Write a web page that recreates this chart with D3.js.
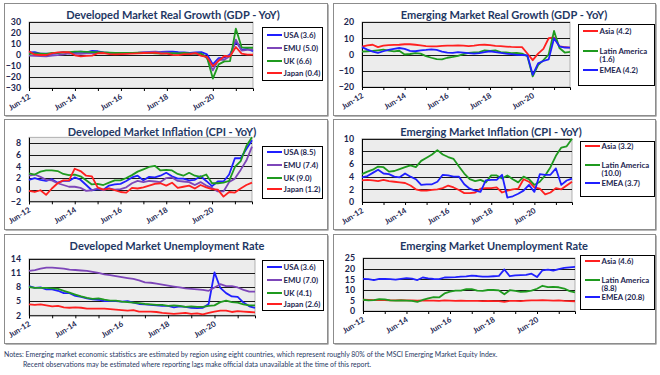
<!DOCTYPE html>
<html><head><meta charset="utf-8">
<script src="https://cdn.jsdelivr.net/npm/d3@7"></script>
<style>
body{margin:0;background:#fff}
svg{display:block}
text{font-family:Lato,"Open Sans",sans-serif}
</style>
</head><body>
<svg id="chart" width="660" height="375"></svg>
<script>
// ---------- DATA ----------
// quarterly observations, Jun-2012 ... Mar-2022 (40 quarters)
const firstQuarter = "Jun-12";
const lastQuarter = "Mar-22";
const xTickLabels = ["Jun-12","Jun-14","Jun-16","Jun-18","Jun-20"];
const yearTickLabels = ["Jun-12","Jun-13","Jun-14","Jun-15","Jun-16","Jun-17","Jun-18","Jun-19","Jun-20","Jun-21"];

const dmNames = ["USA","EMU","UK","Japan"];
const emNames = ["Asia","Latin America","EMEA"];

// Developed market real GDP YoY
const gdpUSA   = [2.3,2.6,1.3, 1.3,1.1,1.6,2.6, 1.5,2.6,3.0,2.5, 3.8,3.4,2.4,1.9, 1.5,1.3,1.6,2.0, 1.9,2.1,2.3,2.7, 2.9,3.1,3.1,2.5, 2.3,2.0,2.3,2.6, 0.6,-8.5,-2.9,-2.3, 0.5,12.2,4.9,5.5, 3.6];
const gdpEMU   = [-0.5,-0.7,-1.0, -1.2,-0.5,-0.2,0.6, 1.4,1.0,1.1,1.4, 1.6,2.0,2.0,2.0, 1.7,1.8,1.8,2.0, 2.1,2.6,2.8,3.0, 2.5,2.3,1.7,1.3, 1.4,1.3,1.4,1.0, -3.1,-14.0,-4.1,-4.4, -1.0,14.0,4.0,4.7, 5.0];
const gdpUK    = [1.0,1.5,1.3, 1.0,2.0,2.0,2.4, 2.7,3.0,3.0,2.8, 2.6,2.5,2.3,2.2, 1.8,1.9,2.0,2.0, 2.1,1.8,1.9,1.6, 1.2,1.4,1.6,1.4, 1.8,1.4,1.2,1.2, -2.2,-21.4,-8.5,-5.8, -5.5,24.0,7.0,6.6, 6.6];
const gdpJapan = [3.5,0.3,0.0, 0.0,1.5,2.3,2.5, 2.5,-0.3,-1.2,-0.8, -0.6,1.6,1.8,0.8, 0.6,0.8,1.0,1.2, 1.5,1.8,2.0,2.2, 1.2,1.3,0.1,-0.1, 0.8,0.9,1.7,-0.8, -1.8,-10.1,-5.4,-0.9, -1.3,7.3,1.2,0.4, 0.4];
const gdpDmLatest = [3.6,5.0,6.6,0.4];

// Emerging market real GDP YoY
const gdpAsia  = [4.9,5.6,6.0,4.5, 5.5,5.8,5.9,6.0, 6.3,6.3,6.0,5.6, 5.2,5.0,5.0,5.3, 5.5,5.4,5.6,5.5, 5.2,5.5,5.9,6.0, 5.8,5.3,5.1,4.9, 4.7,4.6,4.5,0.6, -3.5,0.5,3.5,10.0, 10.5,5.0,4.6,4.2];
const gdpLatAm = [1.8,2.0,2.2,2.6, 3.0,2.4,1.9,2.3, 0.0,0.3,0.8,0.5, -1.0,-2.0,-2.8,-3.0, -2.0,-1.5,-0.8,0.2, 1.0,1.3,1.5,2.5, 2.2,2.5,1.5,1.3, 0.8,1.0,0.5,-1.0, -13.5,-6.5,-3.5,0.0, 14.5,4.0,1.2,1.6];
const gdpEMEA  = [4.5,3.0,1.8,1.0, 2.0,2.8,3.5,4.0, 3.5,2.2,2.0,2.5, 2.8,3.2,2.8,1.8, 1.2,1.0,1.5,1.2, 0.8,0.5,0.8,1.5, 2.0,1.5,1.0,0.5, 0.2,-0.2,-0.3,-0.5, -12.5,-5.5,-4.0,-3.0, 10.0,5.0,4.3,4.2];
const gdpEmLatest = [4.2,1.6,4.2];

// Developed market CPI YoY
const cpiUSA   = [1.7,2.0,1.7, 1.5,1.8,1.2,1.5, 1.5,2.1,1.7,0.8, -0.1,0.1,0.0,0.7, 0.9,1.0,1.5,2.1, 2.4,1.6,2.2,2.1, 2.4,2.9,2.3,1.9, 1.9,1.6,1.7,2.3, 1.5,0.6,1.4,1.4, 2.6,5.4,5.4,7.0, 8.5];
const cpiEMU   = [2.4,2.6,2.2, 1.7,1.6,1.1,0.8, 0.5,0.5,0.3,-0.2, -0.1,0.2,-0.1,0.2, 0.0,0.1,0.4,1.1, 1.5,1.3,1.5,1.4, 1.3,2.0,2.1,1.5, 1.4,1.3,0.8,1.3, 0.7,0.3,-0.3,-0.3, 1.3,1.9,3.4,5.0, 7.4];
const cpiUK    = [2.8,2.6,3.1, 3.3,3.3,3.2,2.7, 2.5,2.6,2.3,1.6, 0.9,1.0,0.8,1.2, 1.6,1.6,2.0,2.5, 3.1,3.5,3.9,4.1, 3.3,3.4,3.3,2.7, 2.4,2.9,2.4,2.2, 2.6,1.1,1.1,1.2, 1.5,3.9,4.9,7.5, 9.0];
const cpiJapan = [-0.2,-0.4,-0.1, -0.9,0.2,1.1,1.6, 1.6,3.6,3.2,2.4, 2.3,0.4,0.0,0.2, -0.1,-0.4,-0.5,0.3, 0.2,0.4,0.7,1.0, 1.1,0.7,1.2,0.3, 0.5,0.7,0.2,0.8, 0.4,0.1,0.0,-1.2, -0.4,-0.5,0.2,0.8, 1.2];
const cpiDmLatest = [8.5,7.4,9.0,1.2];

// Emerging market CPI YoY
const cpiAsia  = [3.4,3.5,3.4,3.3, 3.5,3.3,3.2,3.1, 3.0,2.6,2.0,1.8, 1.8,1.9,2.0,2.2, 2.6,2.3,1.9,1.4, 1.4,1.5,2.1,2.2, 2.2,2.3,1.5,1.8, 2.0,2.1,3.6,3.2, 2.3,2.1,1.2,1.5, 2.2,2.0,2.6,3.2];
const cpiLatAm = [4.4,4.8,5.1,5.6, 5.5,4.8,4.9,5.2, 5.5,5.8,5.5,6.5, 7.0,7.5,8.2,7.5, 7.1,6.8,5.6,4.5, 3.6,3.3,3.5,3.1, 4.2,4.2,3.7,4.2, 3.6,3.1,4.0,3.6, 2.7,3.2,4.2,5.5, 7.3,8.6,8.8,10.0];
const cpiEMEA  = [3.9,4.1,4.6,5.1, 4.5,4.4,4.0,3.9, 4.5,4.0,3.6,2.7, 2.8,2.8,3.2,4.3, 4.2,4.0,4.0,2.8, 2.1,1.8,1.6,3.4, 3.5,3.5,4.3,0.7, 0.9,1.3,1.8,2.7, 1.6,4.4,4.3,4.3, 5.3,2.7,3.4,3.7];
const cpiEmLatest = [3.2,10.0,3.7];

// Developed market unemployment rate
const unUSA   = [8.2,7.8,7.9, 7.5,7.5,7.2,6.7, 6.7,6.1,5.9,5.6, 5.4,5.3,5.0,5.0, 5.0,4.9,5.0,4.7, 4.4,4.3,4.2,4.1, 4.0,4.0,3.7,3.9, 3.8,3.6,3.5,3.6, 4.4,11.1,7.8,6.7, 6.0,5.9,4.7,3.9, 3.6];
const unEMU   = [11.4,11.6,11.9, 12.1,12.1,12.0,11.9, 11.7,11.6,11.5,11.4, 11.2,11.0,10.7,10.5, 10.3,10.1,9.9,9.7, 9.4,9.0,8.9,8.7, 8.5,8.3,8.1,7.9, 7.7,7.6,7.5,7.4, 7.2,7.9,8.6,8.2, 8.2,7.9,7.4,7.0, 7.0];
const unUK    = [8.0,7.8,7.8, 7.8,7.7,7.6,7.2, 6.8,6.4,6.0,5.7, 5.5,5.6,5.3,5.1, 5.1,4.9,4.8,4.7, 4.6,4.4,4.3,4.2, 4.2,4.0,4.1,4.0, 3.8,3.9,3.8,3.8, 4.0,4.1,4.8,5.1, 4.8,4.7,4.3,4.1, 4.1];
const unJapan = [4.3,4.2,4.3, 4.1,3.9,4.0,3.7, 3.6,3.7,3.6,3.4, 3.4,3.4,3.4,3.3, 3.2,3.1,3.0,3.1, 2.8,2.8,2.8,2.7, 2.5,2.4,2.3,2.4, 2.5,2.3,2.4,2.2, 2.5,2.8,3.0,3.0, 2.7,2.9,2.8,2.7, 2.6];
const unDmLatest = [3.6,7.0,4.1,2.6];

// Emerging market unemployment rate
const unAsia  = [5.3,5.2,5.1,5.2, 5.1,5.0,5.0,5.1, 5.0,5.0,4.9,5.0, 4.9,4.9,4.8,5.0, 4.9,4.8,4.9,4.8, 4.8,4.8,4.7,4.8, 4.7,4.7,4.3,4.8, 4.8,4.7,4.9,5.0, 5.0,5.1,5.0,4.9, 5.0,4.8,4.7,4.6];
const unLatAm = [5.3,5.0,5.1,5.6, 5.5,5.0,4.9,5.0, 4.9,4.8,4.3,5.2, 5.9,6.5,6.4,8.3, 9.1,9.6,9.6,10.3, 10.3,9.6,9.5,9.9, 9.9,9.7,7.9,9.8, 9.5,9.0,9.2,9.6, 10.5,11.9,11.3,11.4, 11.2,10.6,9.4,8.8];
const unEMEA  = [15.2,15.0,14.6,15.1, 15.2,15.0,14.8,15.2, 15.5,15.3,14.6,15.8, 15.4,15.1,15.0,15.8, 15.9,16.0,16.2,16.3, 16.7,16.5,16.2,16.2, 16.4,16.6,19.6,16.4, 16.8,16.9,17.0,17.6, 16.0,19.2,19.5,19.1, 19.8,20.3,20.6,20.8];
const unEmLatest = [4.6,8.8,20.8];

const gdpDmTicks = [-30,-20,-10,0,10,20,30];
const gdpEmTicks = [-20,-10,0,10,20];
const cpiDmTicks = [-2,0,2,4,6,8];
const cpiEmTicks = [0,2,4,6,8,10];
const unDmTicks  = [2,5,8,11,14];
const unEmTicks  = [0,5,10,15,20,25];

const titles = [
  "Developed Market Real Growth (GDP - YoY)",
  "Emerging Market Real Growth (GDP - YoY)",
  "Developed Market Inflation (CPI - YoY)",
  "Emerging Market Inflation (CPI - YoY)",
  "Developed Market Unemployment Rate",
  "Emerging Market Unemployment Rate"
];
const notes = [
  "Notes: Emerging market economic statistics are estimated by region using eight countries, which represent roughly 80% of the MSCI Emerging Market Equity Index.",
  "Recent observations may be estimated where reporting lags make official data unavailable at the time of this report."
];

// ---------- STYLE ----------
const dmColors = ["#1f1fff","#7d46b9","#1f9a1f","#ff2020"];
const emColors = ["#ff2020","#1f9a1f","#1f1fff"];
const navy = "#1f3864";
const textCol = "#1c2650";

// ---------- DRAW ----------
const svg = d3.select("#chart");
svg.append("rect").attr("width",660).attr("height",375).attr("fill","#fff");
const parseQ = d3.timeParse("%b-%y");
const x0Date = parseQ(firstQuarter), x1Date = parseQ(lastQuarter);
const quarterDates = d3.timeMonth.range(x0Date, d3.timeMonth.offset(x1Date,1), 3);

function fitSize(str, weight, target) {
  const t = svg.append("text").attr("font-size",100).attr("font-weight",weight).text(str);
  const w = t.node().getComputedTextLength();
  t.remove();
  return 100 * target / w;
}
const titleSize = fitSize(titles[0], "bold", 214);
const legendSize = fitSize("Japan (0.4)", "bold", 37);
const yTickSize = fitSize("-30", "bold", 13.5);
const xTickSize = fitSize("Jun-12", "bold", 24);
const noteSize = fitSize(notes[0], "normal", 494);

const panels = [
  {box:[4,3,323,112], plot:[29,253,22,88], dom:[-30,30], ticks:gdpDmTicks, titleX:173, titleY:19,
   series:[gdpUSA,gdpEMU,gdpUK,gdpJapan], names:dmNames, latest:gdpDmLatest, colors:dmColors,
   legend:[262,27,60,53], rows:[8,21,34,46]},
  {box:[333,3,322,112], plot:[362,570,22,87], dom:[-20,20], ticks:gdpEmTicks, titleX:504, titleY:19,
   series:[gdpAsia,gdpLatAm,gdpEMEA], names:emNames, latest:gdpEmLatest, colors:emColors,
   legend:[578,24,76,61], rows:[7,27,46]},
  {box:[4,119,323,110], plot:[29,252,137.3,201.3], dom:[-2,9], ticks:cpiDmTicks, titleX:162, titleY:136,
   series:[cpiUSA,cpiEMU,cpiUK,cpiJapan], names:dmNames, latest:cpiDmLatest, colors:dmColors,
   legend:[262,146,60,52], rows:[6,19,32,43]},
  {box:[333,119,322,110], plot:[362,572,138.7,202], dom:[0,10], ticks:cpiEmTicks, titleX:491, titleY:136,
   series:[cpiAsia,cpiLatAm,cpiEMEA], names:emNames, latest:cpiEmLatest, colors:emColors,
   legend:[580,141,74,55], rows:[5,24,42]},
  {box:[4,234,323,109], plot:[29,255,258.7,315.3], dom:[2,14], ticks:unDmTicks, titleX:167, titleY:250,
   series:[unUSA,unEMU,unUK,unJapan], names:dmNames, latest:unDmLatest, colors:dmColors,
   legend:[262,260,61,50], rows:[7,20,33,44]},
  {box:[333,234,322,109], plot:[363,575,258,311], dom:[0,25], ticks:unEmTicks, titleX:494, titleY:250,
   series:[unAsia,unLatAm,unEMEA], names:emNames, latest:unEmLatest, colors:emColors,
   legend:[580,255,74,54], rows:[6,25,42]}
];

panels.forEach((p, pi) => {
  const g = svg.append("g");
  const [bx,by,bw,bh] = p.box;
  g.append("rect").attr("x",bx+1.5).attr("y",by+1.5).attr("width",bw).attr("height",bh).attr("fill","#6e6e6e");
  g.append("rect").attr("x",bx+0.5).attr("y",by+0.5).attr("width",bw).attr("height",bh)
    .attr("fill","#fff").attr("stroke","#8c8c8c").attr("stroke-width",1);

  g.append("text").attr("x",p.titleX).attr("y",p.titleY).attr("text-anchor","middle")
    .attr("font-size",titleSize).attr("font-weight","bold").attr("fill",navy).text(titles[pi]);

  const [px0,px1,pyT,pyB] = p.plot;
  const x = d3.scaleTime().domain([x0Date,x1Date]).range([px0,px1]);
  const y = d3.scaleLinear().domain(p.dom).range([pyB,pyT]);

  g.append("rect").attr("x",px0).attr("y",pyT).attr("width",px1-px0).attr("height",pyB-pyT)
    .attr("fill","#ececec").attr("stroke","#a0a0a0").attr("stroke-width",0.8);

  // gridlines
  g.append("g").selectAll("line").data(p.ticks.filter(t => t !== p.dom[0])).join("line")
    .attr("x1",px0).attr("x2",px1).attr("y1",d=>Math.round(y(d))+0.5).attr("y2",d=>Math.round(y(d))+0.5)
    .attr("stroke","#1a1a1a").attr("stroke-width",1);

  // y axis
  const ya = g.append("g").attr("transform",`translate(${px0},0)`)
    .call(d3.axisLeft(y).tickValues(p.ticks).tickSize(0).tickPadding(8).tickFormat(d3.format("d")));
  ya.select(".domain").attr("stroke","#000").attr("stroke-width",1);
  ya.selectAll("text").attr("font-size",yTickSize).attr("font-weight","bold").attr("fill",textCol)
    .attr("font-family","Lato");

  // x axis
  const tickDates = yearTickLabels.map(parseQ);
  const xa = g.append("g").attr("transform",`translate(0,${pyB})`)
    .call(d3.axisBottom(x).tickValues(tickDates).tickSize(3).tickFormat(""));
  xa.select(".domain").attr("stroke","#000");
  xa.selectAll(".tick line").attr("stroke","#000");
  g.append("g").selectAll("text").data(xTickLabels).join("text")
    .attr("transform", d => `translate(${x(parseQ(d))+2},${pyB+10}) rotate(-32)`)
    .attr("text-anchor","end").attr("font-size",xTickSize).attr("font-weight","bold")
    .attr("fill",textCol).text(d => d);

  // lines
  const line = d3.line().x((d,i)=>x(quarterDates[i])).y(d=>y(d));
  p.series.forEach((s,si) => {
    g.append("path").datum(s).attr("d",line).attr("fill","none")
      .attr("stroke",p.colors[si]).attr("stroke-width",1.8).attr("stroke-linejoin","round");
  });

  // legend
  const [lx,ly,lw,lh] = p.legend;
  g.append("rect").attr("x",lx+0.5).attr("y",ly+0.5).attr("width",lw).attr("height",lh)
    .attr("fill","#fff").attr("stroke","#000").attr("stroke-width",1);
  p.names.forEach((n,si) => {
    const ry = ly + p.rows[si];
    g.append("line").attr("x1",lx+5).attr("x2",lx+20).attr("y1",ry).attr("y2",ry)
      .attr("stroke",p.colors[si]).attr("stroke-width",2);
    const t = g.append("text").attr("x",lx+21.5).attr("y",ry).attr("dy","0.35em")
      .attr("font-size",legendSize).attr("font-weight","bold").attr("fill",textCol);
    const lab = `(${d3.format(".1f")(p.latest[si])})`;
    if (n === "Latin America") {
      t.append("tspan").text(n);
      t.append("tspan").attr("x",lx+21.5).attr("dy","8.5").text(lab);
    } else {
      t.text(`${n} ${lab}`);
    }
  });
});

// notes
svg.append("text").attr("x",4).attr("y",357).attr("font-size",noteSize).attr("fill",navy).text(notes[0]);
svg.append("text").attr("x",23).attr("y",367).attr("font-size",noteSize).attr("fill",navy).text(notes[1]);
</script>
</body></html>
